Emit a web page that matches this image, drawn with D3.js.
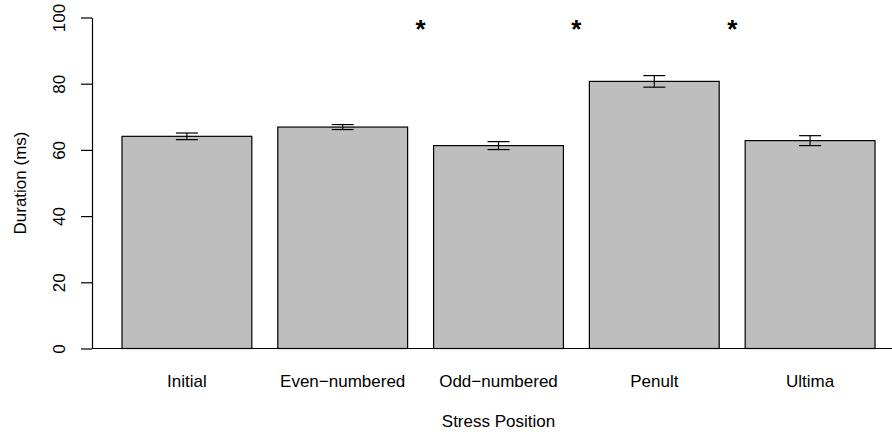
<!DOCTYPE html>
<html>
  <head>
    <meta charset="utf-8">
    <title>Stress Position Duration</title>
    <style>
      body { margin: 0; background: #fff; }
      svg text { font-family: "Liberation Sans", Arial, sans-serif; fill: #000; }
      .axis path, .axis line { stroke: #000; stroke-width: 1.2; fill: none; }
    </style>
  </head>
  <body>
  <svg id="chart" width="892" height="432"></svg>
  <script src="https://d3js.org/d3.v7.min.js"></script>
  <script>
    // data
    var categories = ["Initial", "Even\u2212numbered", "Odd\u2212numbered", "Penult", "Ultima"];
    var means = [64.1, 66.9, 61.3, 80.7, 62.8];
    var errors = [1.0, 0.75, 1.2, 1.75, 1.5];
    var yTicks = [0, 20, 40, 60, 80, 100];
    // asterisks between neighbouring bars (index pairs)
    var sigPairs = [[1, 2], [2, 3], [3, 4]];

    var svg = d3.select("#chart");

    // scales
    var x = d3.scaleBand()
      .domain(categories)
      .range([122, 875])
      .paddingInner(1 / 6)
      .paddingOuter(0);

    var y = d3.scaleLinear()
      .domain([0, 100])
      .range([348.5, 17.5]);

    // baseline across the plot region
    svg.append("line")
      .attr("x1", 92).attr("x2", 892)
      .attr("y1", y(0)).attr("y2", y(0))
      .attr("stroke", "#000").attr("stroke-width", 1.2);

    // bars
    svg.selectAll("rect.bar")
      .data(means)
      .enter().append("rect")
      .attr("class", "bar")
      .attr("x", function(d, i) { return x(categories[i]); })
      .attr("y", function(d) { return y(d); })
      .attr("width", x.bandwidth())
      .attr("height", function(d) { return y(0) - y(d); })
      .attr("fill", "#bebebe")
      .attr("stroke", "#000")
      .attr("stroke-width", 1.2);

    // error bars
    var capHalf = 11;
    var eb = svg.selectAll("g.err")
      .data(means)
      .enter().append("g")
      .attr("class", "err")
      .attr("stroke", "#000")
      .attr("stroke-width", 1.2);

    function cx(i) { return x(categories[i]) + x.bandwidth() / 2; }

    eb.append("line")
      .attr("x1", function(d, i) { return cx(i); })
      .attr("x2", function(d, i) { return cx(i); })
      .attr("y1", function(d, i) { return y(d - errors[i]); })
      .attr("y2", function(d, i) { return y(d + errors[i]); });
    eb.append("line")
      .attr("x1", function(d, i) { return cx(i) - capHalf; })
      .attr("x2", function(d, i) { return cx(i) + capHalf; })
      .attr("y1", function(d, i) { return y(d + errors[i]); })
      .attr("y2", function(d, i) { return y(d + errors[i]); });
    eb.append("line")
      .attr("x1", function(d, i) { return cx(i) - capHalf; })
      .attr("x2", function(d, i) { return cx(i) + capHalf; })
      .attr("y1", function(d, i) { return y(d - errors[i]); })
      .attr("y2", function(d, i) { return y(d - errors[i]); });

    // y axis
    var yAxis = d3.axisLeft(y)
      .tickValues(yTicks)
      .tickSize(11)
      .tickSizeOuter(0)
      .tickPadding(0);

    var gy = svg.append("g")
      .attr("class", "axis")
      .attr("transform", "translate(92,0)")
      .call(yAxis);

    gy.selectAll(".tick text")
      .attr("x", null).attr("dy", null)
      .attr("text-anchor", "middle")
      .attr("font-size", 17)
      .attr("transform", "translate(-27.5,0) rotate(-90)")
      .attr("y", 0);

    // category labels
    svg.selectAll("text.cat")
      .data(categories)
      .enter().append("text")
      .attr("class", "cat")
      .attr("x", function(d) { return x(d) + x.bandwidth() / 2; })
      .attr("y", 387)
      .attr("text-anchor", "middle")
      .attr("font-size", 17)
      .text(function(d) { return d; });

    // axis titles
    svg.append("text")
      .attr("x", (122 + 875) / 2)
      .attr("y", 427)
      .attr("text-anchor", "middle")
      .attr("font-size", 17)
      .text("Stress Position");

    svg.append("text")
      .attr("transform", "translate(26," + (y(0) + y(100)) / 2 + ") rotate(-90)")
      .attr("text-anchor", "middle")
      .attr("font-size", 17)
      .text("Duration (ms)");

    // significance asterisks
    svg.selectAll("text.star")
      .data(sigPairs)
      .enter().append("text")
      .attr("class", "star")
      .attr("x", function(p) { return (cx(p[0]) + cx(p[1])) / 2; })
      .attr("y", y(97.6) + 12.5)
      .attr("text-anchor", "middle")
      .attr("font-size", 26)
      .attr("font-weight", "bold")
      .text("*");
  </script>
  </body>
</html>
